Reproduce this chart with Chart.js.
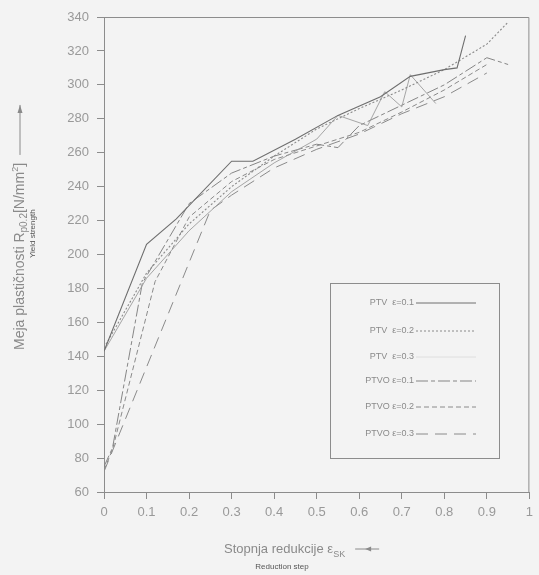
<!DOCTYPE html>
<html><head><meta charset="utf-8">
<script src="https://cdn.jsdelivr.net/npm/chart.js@4"></script>
<style>html,body{margin:0;padding:0;background:#f3f3f3}#w{width:539px;height:575px}</style>
</head><body><div id="w"><canvas id="c" width="539" height="575"></canvas></div>
<script>
const xTicks = [0,0.1,0.2,0.3,0.4,0.5,0.6,0.7,0.8,0.9,1];
const yTicks = [60,80,100,120,140,160,180,200,220,240,260,280,300,320,340];
const seriesNames = ['PTV  \u03b5=0.1','PTV  \u03b5=0.2','PTV  \u03b5=0.3','PTVO \u03b5=0.1','PTVO \u03b5=0.2','PTVO \u03b5=0.3'];
const ptv01_x = [0,0.1,0.17,0.3,0.35,0.45,0.55,0.65,0.72,0.8,0.83,0.85];
const ptv01_y = [143,206,221,255,255,268,282,293,305,309,310,329];
const ptv02_x = [0,0.1,0.2,0.3,0.4,0.5,0.6,0.7,0.8,0.9,0.95];
const ptv02_y = [145,189,218,240,258,274,286,297,309,324,337];
const ptv03_x = [0,0.1,0.2,0.3,0.4,0.5,0.55,0.62,0.66,0.7,0.72,0.78];
const ptv03_y = [143,186,214,237,254,268,282,276,296,287,306,289];
const ptvo01_x = [0,0.02,0.09,0.2,0.3,0.4,0.5,0.55,0.6,0.7,0.8,0.9,0.95];
const ptvo01_y = [75,86,183,230,248,258,265,263,276,288,300,316,312];
const ptvo02_x = [0,0.02,0.12,0.2,0.3,0.4,0.5,0.6,0.7,0.8,0.9];
const ptvo02_y = [73,85,184,222,243,256,264,272,284,297,312];
const ptvo03_x = [0,0.25,0.3,0.4,0.5,0.6,0.7,0.8,0.9];
const ptvo03_y = [72,226,235,251,262,271,283,293,307];

const styles = [
  {c:'#6e6e6e', d:[], w:1.1},
  {c:'#8a8a8a', d:[2,2], w:1.1},
  {c:'#9c9c9c', d:[], w:0.9},
  {c:'#858585', d:[12,3,4,3], w:1},
  {c:'#8a8a8a', d:[5,3], w:1},
  {c:'#8a8a8a', d:[12,7], w:1}
];
function pts(xs,ys){return xs.map((x,i)=>({x:x,y:ys[i]}));}
const allX=[ptv01_x,ptv02_x,ptv03_x,ptvo01_x,ptvo02_x,ptvo03_x];
const allY=[ptv01_y,ptv02_y,ptv03_y,ptvo01_y,ptvo02_y,ptvo03_y];
const datasets = seriesNames.map((n,i)=>({label:n,data:pts(allX[i],allY[i]),borderColor:styles[i].c,borderDash:styles[i].d,borderWidth:styles[i].w,pointRadius:0,fill:false,tension:0}));

const deco = {
  id:'deco',
  afterDraw(chart){
    const ctx=chart.ctx, a=chart.chartArea;
    ctx.save();
    ctx.strokeStyle='#8c8c8c'; ctx.lineWidth=1;
    ctx.beginPath(); ctx.moveTo(a.left,a.top+0.5); ctx.lineTo(a.right-0.5,a.top+0.5); ctx.lineTo(a.right-0.5,a.bottom); ctx.stroke();
    // legend box
    const bx=330,by=283,bw=169,bh=175;
    ctx.strokeStyle='#8c8c8c'; ctx.strokeRect(bx+0.5,by+0.5,bw,bh);
    const rows=[303,331,357,381,407,434];
    ctx.font='9px "Liberation Sans", sans-serif'; ctx.fillStyle='#8a8a8a'; ctx.textAlign='right'; ctx.textBaseline='middle';
    chart.data.datasets.forEach((ds,i)=>{
      ctx.fillText(ds.label,414,rows[i]);
      ctx.strokeStyle= i===2 ? '#dedede' : ds.borderColor; ctx.setLineDash(ds.borderDash); ctx.lineWidth=1;
      ctx.beginPath(); ctx.moveTo(416,rows[i]); ctx.lineTo(476,rows[i]); ctx.stroke();
    });
    ctx.setLineDash([]);
    // x title
    ctx.fillStyle='#8a8a8a'; ctx.textBaseline='alphabetic'; ctx.textAlign='left';
    ctx.font='13px "Liberation Sans", sans-serif';
    let t='Stopnja redukcije \u03b5'; let x0=224; ctx.fillText(t,x0,553);
    let w=ctx.measureText(t).width;
    ctx.font='9px "Liberation Sans", sans-serif'; ctx.fillText('SK',x0+w,557);
    let w2=ctx.measureText('SK').width;
    ctx.strokeStyle='#8a8a8a'; ctx.beginPath(); ctx.moveTo(x0+w+w2+10,549); ctx.lineTo(x0+w+w2+34,549); ctx.stroke();
    ctx.beginPath(); ctx.moveTo(x0+w+w2+20,549); ctx.lineTo(x0+w+w2+26,546.5); ctx.lineTo(x0+w+w2+26,551.5); ctx.closePath(); ctx.fill();
    ctx.fillStyle='#555'; ctx.font='8px "Liberation Sans", sans-serif'; ctx.textAlign='center';
    ctx.fillText('Reduction step',282,569);
    // y title
    ctx.save(); ctx.translate(24,350); ctx.rotate(-Math.PI/2);
    ctx.textAlign='left'; ctx.fillStyle='#8a8a8a';
    ctx.font='14px "Liberation Sans", sans-serif';
    let s='Meja plasti\u010dnosti R'; ctx.fillText(s,0,0); let sw=ctx.measureText(s).width;
    ctx.font='10px "Liberation Sans", sans-serif'; ctx.fillText('p0.2',sw,3); sw+=ctx.measureText('p0.2').width;
    ctx.font='14px "Liberation Sans", sans-serif'; ctx.fillText('[N/mm',sw,0); sw+=ctx.measureText('[N/mm').width;
    ctx.font='9px "Liberation Sans", sans-serif'; ctx.fillText('2',sw,-6); sw+=ctx.measureText('2').width;
    ctx.font='14px "Liberation Sans", sans-serif'; ctx.fillText(']',sw,0); sw+=ctx.measureText(']').width;
    ctx.strokeStyle='#8a8a8a'; ctx.beginPath(); ctx.moveTo(sw+8,-4); ctx.lineTo(sw+58,-4); ctx.stroke();
    ctx.beginPath(); ctx.moveTo(sw+58,-4); ctx.lineTo(sw+50,-6.5); ctx.lineTo(sw+50,-1.5); ctx.closePath(); ctx.fill();
    ctx.fillStyle='#555'; ctx.font='8px "Liberation Sans", sans-serif';
    ctx.fillText('Yield strength',92,11);
    ctx.restore();
    ctx.restore();
  }
};

new Chart(document.getElementById('c'),{
  type:'line',
  data:{datasets:datasets},
  options:{
    responsive:false, animation:false,
    layout:{padding:{top:17,right:1,left:0,bottom:0}},
    plugins:{legend:{display:false},tooltip:{enabled:false}},
    scales:{
      x:{type:'linear',min:0,max:1,
        afterBuildTicks(s){s.ticks=xTicks.map(v=>({value:v}));},
        afterFit(s){s.height=83;},
        ticks:{color:'#999',font:{family:'Liberation Sans',size:13},padding:6,maxRotation:0,autoSkip:false,callback:v=>String(v)},
        grid:{drawOnChartArea:false,drawTicks:true,tickLength:7,color:'#8c8c8c'},
        border:{color:'#8c8c8c'}},
      y:{type:'linear',min:60,max:340,
        afterBuildTicks(s){s.ticks=yTicks.map(v=>({value:v}));},
        afterFit(s){s.width=104;},
        ticks:{color:'#999',font:{family:'Liberation Sans',size:13},padding:8,autoSkip:false},
        grid:{drawOnChartArea:false,drawTicks:true,tickLength:7,color:'#8c8c8c'},
        border:{color:'#8c8c8c'}}
    }
  },
  plugins:[deco]
});
</script></body></html>
